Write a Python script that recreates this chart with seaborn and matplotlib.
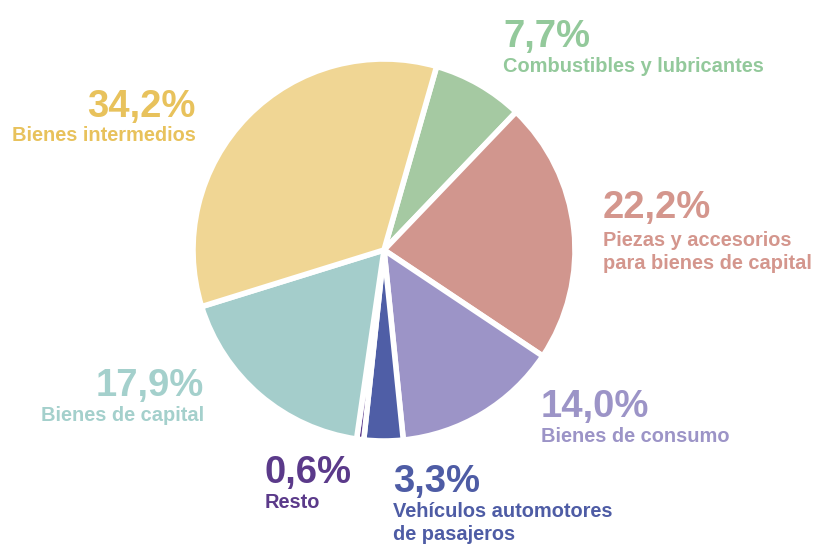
import matplotlib
matplotlib.use("Agg")
import matplotlib.pyplot as plt
import seaborn as sns

sns.set_theme(style="white")
plt.rcParams['font.family'] = ['Liberation Sans', 'DejaVu Sans']

# Data (clockwise from the top-right)
categories = ["Combustibles y lubricantes", "Piezas y accesorios\npara bienes de capital",
              "Bienes de consumo", "Vehículos automotores\nde pasajeros", "Resto",
              "Bienes de capital", "Bienes intermedios"]
values = [7.7, 22.2, 14.0, 3.3, 0.6, 17.9, 34.2]
pct_labels = ["7,7%", "22,2%", "14,0%", "3,3%", "0,6%", "17,9%", "34,2%"]

slice_colors = ["#A5C9A2", "#D1968E", "#9C94C7", "#4F5EA6", "#5C3A8C", "#A4CDCB", "#F0D694"]
text_colors = ["#93C99B", "#D4968D", "#9C94C7", "#4E5CA5", "#5B3A8A", "#A4D0CC", "#E8C25C"]

W, H = 818, 545
fig = plt.figure(figsize=(W / 100, H / 100), dpi=100)
fig.patch.set_facecolor("white")

cx, cy, r = 384, 250, 191
ax = fig.add_axes([(cx - r) / W, (H - cy - r) / H, 2 * r / W, 2 * r / H])
palette = sns.color_palette(slice_colors)
ax.pie(values, colors=palette, startangle=74, counterclock=False, radius=1,
       wedgeprops=dict(edgecolor="white", linewidth=4.0))
ax.set_xlim(-1, 1)
ax.set_ylim(-1, 1)
ax.set_aspect("equal")
ax.axis("off")

# label placement in pixel coordinates: (x, baseline of pct, baseline of first text line, align)
positions = [
    (503, 47, 72, "left"),
    (603, 218, 246, "left"),
    (541, 417, 442, "left"),
    (393, 492, 517, "left"),
    (265, 483, 508, "left"),
    (204, 396, 421, "right"),
    (196, 117, 141, "right"),
]
line_gap = 23

for (x, yp, yl, ha), pct, cat, col in zip(positions, pct_labels, categories, text_colors):
    fig.text(x / W, 1 - yp / H, pct, ha=ha, va="baseline", fontsize=27.5,
             fontweight="bold", color=col)
    for i, line in enumerate(cat.split("\n")):
        fig.text(x / W, 1 - (yl + i * line_gap) / H, line, ha=ha, va="baseline",
                 fontsize=14.4, fontweight="bold", color=col)

fig.savefig("out.png", dpi=100, facecolor="white")
